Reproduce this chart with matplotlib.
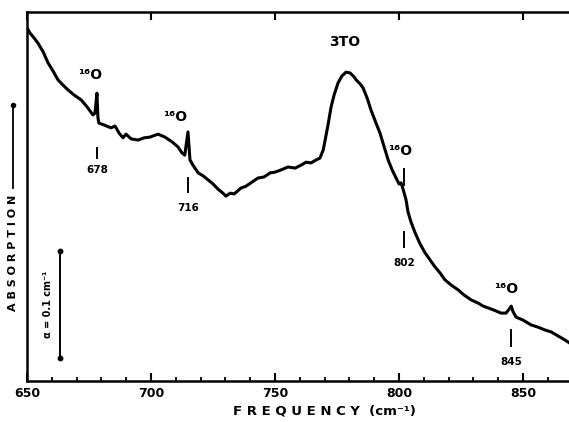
import matplotlib
matplotlib.use("Agg")
import matplotlib.pyplot as plt
from matplotlib.lines import Line2D
from matplotlib.ticker import MultipleLocator

# Spectrum (frequency in cm^-1, absorption in arbitrary units)
freq = [650.0, 651.2, 652.8, 654.4, 656.5, 658.5, 660.5, 662.5, 664.5, 666.5,
        669.0, 671.8, 674.2, 676.6, 677.4, 678.2, 678.6, 679.0, 681.0, 683.9,
        685.5, 687.1, 688.7, 689.9, 692.0, 694.8, 697.2, 699.6, 702.8, 705.6,
        708.5, 710.9, 712.5, 713.6, 714.9, 715.7, 716.9, 719.0, 721.0, 723.0,
        725.0, 727.0, 729.0, 730.2, 731.9, 733.5, 736.3, 738.3, 740.7, 743.1,
        745.6, 748.0, 750.0, 752.4, 755.2, 758.1, 760.5, 762.5, 764.5, 766.5,
        768.1, 769.4, 770.2, 771.4, 772.6, 773.8, 775.4, 777.0, 778.6, 780.2,
        781.9, 782.7, 784.3, 785.5, 787.1, 788.7, 790.7, 792.3, 794.0, 795.6,
        797.2, 798.8, 800.0, 800.8, 801.6, 802.8, 803.6, 804.8, 806.5, 808.5,
        810.5, 812.5, 814.5, 816.5, 818.5, 821.0, 823.8, 826.2, 829.0, 831.9,
        833.9, 835.9, 838.3, 841.1, 843.1, 844.4, 845.2, 846.0, 847.2, 850.0,
        853.2, 856.0, 858.9, 861.3, 864.1, 866.9, 868.5]
absorption = [0.957, 0.943, 0.930, 0.916, 0.892, 0.862, 0.840, 0.816, 0.802, 0.789,
              0.775, 0.762, 0.743, 0.721, 0.726, 0.780, 0.713, 0.699, 0.694, 0.686,
              0.691, 0.672, 0.659, 0.669, 0.656, 0.653, 0.659, 0.661, 0.669, 0.661,
              0.648, 0.634, 0.618, 0.612, 0.675, 0.599, 0.585, 0.564, 0.556, 0.545,
              0.534, 0.520, 0.509, 0.501, 0.509, 0.507, 0.523, 0.528, 0.539, 0.550,
              0.553, 0.564, 0.566, 0.572, 0.580, 0.577, 0.585, 0.593, 0.591, 0.599,
              0.604, 0.626, 0.653, 0.696, 0.743, 0.775, 0.808, 0.827, 0.837, 0.835,
              0.824, 0.816, 0.805, 0.794, 0.767, 0.734, 0.699, 0.672, 0.634, 0.599,
              0.572, 0.550, 0.534, 0.537, 0.520, 0.491, 0.458, 0.431, 0.401, 0.371,
              0.347, 0.328, 0.309, 0.293, 0.274, 0.260, 0.247, 0.233, 0.220, 0.211,
              0.203, 0.198, 0.192, 0.184, 0.184, 0.195, 0.203, 0.187, 0.173, 0.165,
              0.152, 0.146, 0.138, 0.133, 0.122, 0.111, 0.104]

# Isotope (16O) line labels
line_labels = ["678", "716", "802", "845"]
x_ticks = [650, 700, 750, 800, 850]
x_ticklabels = ["650", "700", "750", "800", "850"]

fig = plt.figure(figsize=(5.69, 4.22), dpi=100)
W, H = 569.0, 422.0
ax = fig.add_axes([27 / W, 1 - 381 / H, (569 - 27) / W, (381 - 12) / H])
ax.set_xlim(650, 868.5)
ax.set_ylim(0, 1)

ax.plot(freq, absorption, color="black", lw=2.2, solid_joinstyle="round")

for s in ["left", "bottom", "top"]:
    ax.spines[s].set_linewidth(1.8)
ax.spines["right"].set_visible(False)

ax.set_xticks(x_ticks)
ax.set_xticklabels(x_ticklabels, fontsize=9, fontweight="bold")
ax.xaxis.set_minor_locator(MultipleLocator(10))
ax.tick_params(axis="x", which="major", direction="in", length=6, width=1.5,
               top=True, bottom=True, pad=4)
ax.tick_params(axis="x", which="minor", direction="in", length=3, width=1.3,
               top=False, bottom=True)
ax.set_yticks([])

bold = dict(fontweight="bold", color="black", ha="center", va="center")

# Annotations: 16O labels
ax.text(675.4, 0.829, "¹⁶O", fontsize=10, **bold)
ax.text(709.7, 0.715, "¹⁶O", fontsize=10, **bold)
ax.text(800.4, 0.624, "¹⁶O", fontsize=10, **bold)
ax.text(843.1, 0.250, "¹⁶O", fontsize=10, **bold)
ax.text(778.2, 0.918, "3TO", fontsize=10, **bold)

# marker ticks and values
marks = [(678.2, 0.631, 0.604, 0.572),
         (714.9, 0.550, 0.512, 0.470),
         (802.0, 0.404, 0.362, 0.320),
         (845.2, 0.138, 0.095, 0.051)]
for (xm, y0, y1, yt), lab in zip(marks, line_labels):
    ax.plot([xm, xm], [y0, y1], color="black", lw=1.4)
    ax.text(xm, yt, lab, fontsize=7.5, **bold)
ax.plot([802.0, 802.0], [0.574, 0.530], color="black", lw=1.4)

# scale bar
ax.plot([663.3, 663.3], [0.352, 0.062], color="black", lw=1.4,
        marker="o", ms=3.2)
ax.text(658.3, 0.207, "α = 0.1 cm⁻¹", rotation=90, fontsize=7, **bold)

# axis labels
fig.text(324 / W, 1 - 411 / H, "F R E Q U E N C Y  (cm⁻¹)", fontsize=9.5,
         fontweight="bold", ha="center", va="center")
fig.text(13 / W, 1 - 253 / H, "A B S O R P T I O N", fontsize=8,
         fontweight="bold", ha="center", va="center", rotation=90)
fig.add_artist(Line2D([13 / W, 13 / W], [1 - 188 / H, 1 - 105 / H],
                      transform=fig.transFigure, color="black", lw=1.3))
fig.add_artist(Line2D([13 / W], [1 - 105 / H], transform=fig.transFigure,
                      color="black", marker="o", ms=3))

fig.savefig("out.png", dpi=100)
